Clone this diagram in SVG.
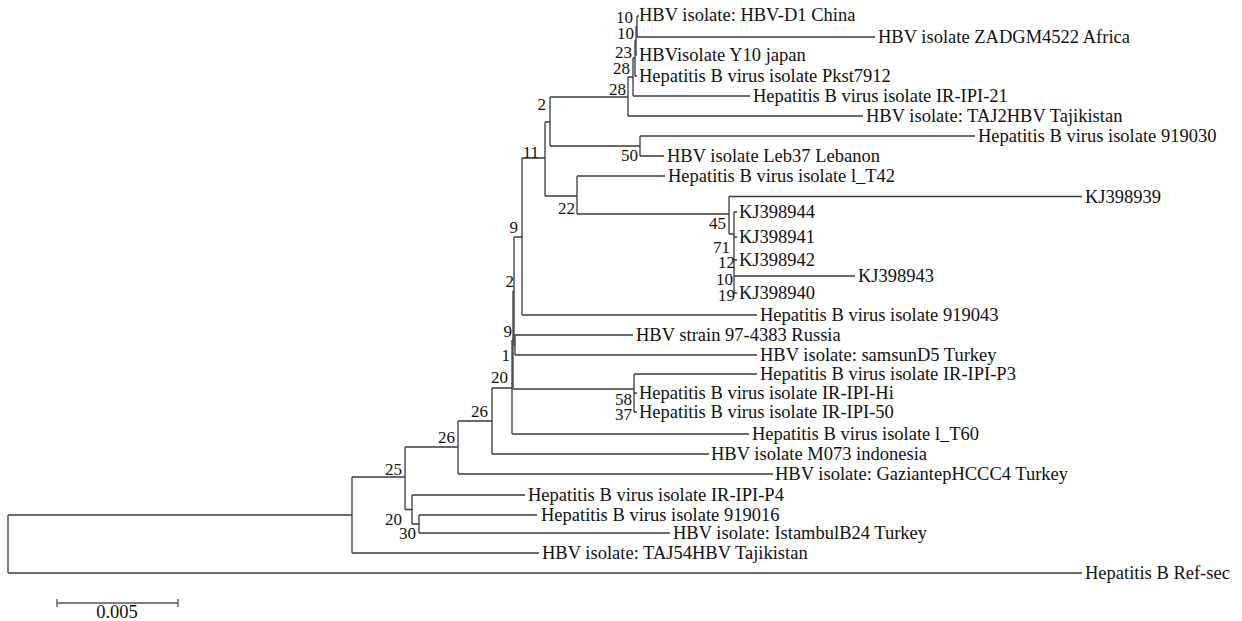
<svg xmlns="http://www.w3.org/2000/svg" width="1242" height="621" viewBox="0 0 1242 621">
<style>
.t{font-family:"Liberation Serif","Times New Roman",serif;font-size:18.5px;fill:#111}
.bs{text-anchor:end;font-size:17px}
.br{fill:none;stroke:#3a3a3a;stroke-width:1.3}
</style>
<rect width="1242" height="621" fill="#fff"/>
<g id="connectors" class="br">
<path d="M8 515V573M8 515H352M8 573H1082"/>
<path d="M352 477V553M352 477H405M352 553H539"/>
<path d="M405 447V509.5M405 447H458M405 509.5H412"/>
<path d="M412 495V524M412 495H525M412 524H419"/>
<path d="M419 515V533M419 515H537M419 533H670"/>
<path d="M458 421V474M458 421H492M458 474H773"/>
<path d="M492 388V454M492 388H512M492 454H709"/>
<path d="M512 340V434M512 340H513M512 434H749"/>
<path d="M513 291V389M513 291H514M513 389H634"/>
<path d="M634 374V412M634 374H757M634 393H637M634 412H637"/>
<path d="M514 237V345M514 237H522M514 345H515"/>
<path d="M515 335V355M515 335H633M515 355H757"/>
<path d="M522 158V315M522 158H545M522 315H757"/>
<path d="M545 122V196M545 122H550M545 196H577"/>
<path d="M550 97V146M550 97H628M550 146H640"/>
<path d="M640 136V156M640 136H975M640 156H664"/>
<path d="M577 176V214M577 176H665M577 214H729"/>
<path d="M729 196.5V234M729 196.5H1082M729 234H734"/>
<path d="M734 212V293M734 212H737M734 237H737M734 260H737M734 293H737M734 276H855"/>
<path d="M628 77V116M628 77H633M628 116H863"/>
<path d="M633 58V96M633 58H635M633 96H750"/>
<path d="M635 40.5V76M635 40.5H636M635 76H637"/>
<path d="M636 26.5V55M636 26.5H637M636 55H637"/>
<path d="M637 16V37M637 16H639M637 37H875"/>
</g>
<g id="leaf-d1china"><text class="t" x="639" y="21">HBV isolate: HBV-D1 China</text></g>
<g id="leaf-zadgm4522"><text class="t" x="878" y="43">HBV isolate ZADGM4522 Africa</text></g>
<g id="leaf-y10"><text class="t" x="639" y="61">HBVisolate Y10 japan</text></g>
<g id="leaf-pkst7912"><text class="t" x="639" y="82">Hepatitis B virus isolate Pkst7912</text></g>
<g id="leaf-iripi21"><text class="t" x="753" y="102">Hepatitis B virus isolate IR-IPI-21</text></g>
<g id="leaf-taj2hbv"><text class="t" x="866" y="122">HBV isolate: TAJ2HBV Tajikistan</text></g>
<g id="leaf-919030"><text class="t" x="978" y="142">Hepatitis B virus isolate 919030</text></g>
<g id="leaf-leb37"><text class="t" x="667" y="162">HBV isolate Leb37 Lebanon</text></g>
<g id="leaf-lt42"><text class="t" x="668" y="182">Hepatitis B virus isolate l_T42</text></g>
<g id="leaf-kj398939"><text class="t" x="1085" y="203">KJ398939</text></g>
<g id="leaf-kj398944"><text class="t" x="739" y="218">KJ398944</text></g>
<g id="leaf-kj398941"><text class="t" x="739" y="243">KJ398941</text></g>
<g id="leaf-kj398942"><text class="t" x="739" y="266">KJ398942</text></g>
<g id="leaf-kj398943"><text class="t" x="858" y="282">KJ398943</text></g>
<g id="leaf-kj398940"><text class="t" x="739" y="299">KJ398940</text></g>
<g id="leaf-919043"><text class="t" x="760" y="321">Hepatitis B virus isolate 919043</text></g>
<g id="leaf-russia"><text class="t" x="636" y="341">HBV strain 97-4383 Russia</text></g>
<g id="leaf-samsund5"><text class="t" x="760" y="361">HBV isolate: samsunD5 Turkey</text></g>
<g id="leaf-iripip3"><text class="t" x="760" y="380">Hepatitis B virus isolate IR-IPI-P3</text></g>
<g id="leaf-iripihi"><text class="t" x="639" y="399">Hepatitis B virus isolate IR-IPI-Hi</text></g>
<g id="leaf-iripi50"><text class="t" x="639" y="418">Hepatitis B virus isolate IR-IPI-50</text></g>
<g id="leaf-lt60"><text class="t" x="752" y="440">Hepatitis B virus isolate l_T60</text></g>
<g id="leaf-m073"><text class="t" x="711" y="460">HBV isolate M073 indonesia</text></g>
<g id="leaf-gaziantep"><text class="t" x="775" y="480">HBV isolate: GaziantepHCCC4 Turkey</text></g>
<g id="leaf-iripip4"><text class="t" x="528" y="501">Hepatitis B virus isolate IR-IPI-P4</text></g>
<g id="leaf-919016"><text class="t" x="541" y="521">Hepatitis B virus isolate 919016</text></g>
<g id="leaf-istambulb24"><text class="t" x="673" y="539">HBV isolate: IstambulB24 Turkey</text></g>
<g id="leaf-taj54hbv"><text class="t" x="542" y="559">HBV isolate: TAJ54HBV Tajikistan</text></g>
<g id="leaf-refsec"><text class="t" x="1085" y="579">Hepatitis B Ref-sec</text></g>
<g id="bootstrap" class="t bs">
<text x="633" y="23">10</text>
<text x="634" y="39">10</text>
<text x="632" y="58">23</text>
<text x="630" y="74">28</text>
<text x="626" y="95">28</text>
<text x="546" y="110">2</text>
<text x="638" y="161">50</text>
<text x="539" y="158">11</text>
<text x="575" y="214">22</text>
<text x="726" y="229">45</text>
<text x="730" y="253">71</text>
<text x="735" y="268">12</text>
<text x="733" y="285">10</text>
<text x="735" y="301">19</text>
<text x="518" y="233">9</text>
<text x="514" y="287">2</text>
<text x="512" y="337">9</text>
<text x="510" y="361">1</text>
<text x="508" y="383">20</text>
<text x="488" y="417">26</text>
<text x="455" y="443">26</text>
<text x="402" y="475">25</text>
<text x="632" y="405">58</text>
<text x="632" y="420">37</text>
<text x="402" y="525">20</text>
<text x="416" y="539">30</text>
</g>
<g id="scale-bar">
<path d="M57 603H178M57 599V607M178 599V607" fill="none" stroke="#555" stroke-width="1.3"/>
<text class="t" x="117" y="618" text-anchor="middle">0.005</text>
</g>
</svg>
